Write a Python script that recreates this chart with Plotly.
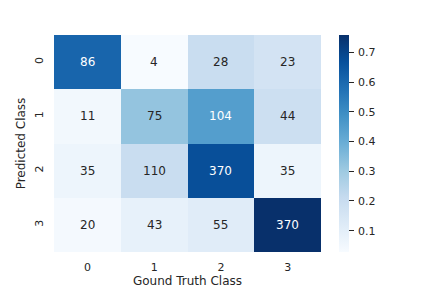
import plotly.graph_objects as go

classes = ["0", "1", "2", "3"]
counts = [
    [86, 4, 28, 23],
    [11, 75, 104, 44],
    [35, 110, 370, 35],
    [20, 43, 55, 370],
]
cbar_ticks = [0.1, 0.2, 0.3, 0.4, 0.5, 0.6, 0.7]

# row-normalised values drive the colour
norm = [[v / sum(row) for v in row] for row in counts]

DARK = "#262626"
FONT = "DejaVu Sans"

fig = go.Figure(go.Heatmap(
    z=norm, x=classes, y=classes,
    colorscale="Blues",
    xgap=0, ygap=0,
    colorbar=dict(
        thickness=10, len=1, lenmode="fraction", y=0.5, yanchor="middle",
        x=1.0674, xanchor="left", xpad=0, ypad=0, outlinewidth=0,
        tickvals=cbar_ticks, ticktext=["\u2009" + f"{t:.1f}" for t in cbar_ticks],
        ticks="outside", ticklen=5, tickwidth=1, tickcolor=DARK,
        tickfont=dict(family=FONT, size=11, color=DARK),
    ),
    hoverinfo="skip",
))

annotations = []
for i, row in enumerate(counts):
    for j, v in enumerate(row):
        annotations.append(dict(
            x=classes[j], y=classes[i], text=str(v), showarrow=False,
            font=dict(family=FONT, size=12,
                      color="white" if norm[i][j] > 0.4 else DARK),
        ))

fig.update_layout(
    width=432, height=288,
    margin=dict(l=54, r=111, t=35, b=36, autoexpand=False),
    paper_bgcolor="white", plot_bgcolor="white",
    annotations=annotations,
    font=dict(family=FONT, color=DARK),
    xaxis=dict(
        type="category", showgrid=False, zeroline=False, showline=False, automargin=False,
        ticks="outside", ticklen=5, tickcolor="rgba(0,0,0,0)",
        tickfont=dict(family=FONT, size=11, color=DARK),
        title=dict(text="Gound Truth Class", font=dict(family=FONT, size=12, color=DARK), standoff=4),
    ),
    yaxis=dict(
        type="category", autorange="reversed", showgrid=False, zeroline=False, showline=False, automargin=False,
        ticks="outside", ticklen=6, tickcolor="rgba(0,0,0,0)", tickangle=-90,
        tickfont=dict(family=FONT, size=11, color=DARK),
        title=dict(text="Predicted Class", font=dict(family=FONT, size=12, color=DARK), standoff=4),
    ),
)

fig.write_html("out.html", config={"displayModeBar": False},
               post_script="document.body.style.margin='0';")
